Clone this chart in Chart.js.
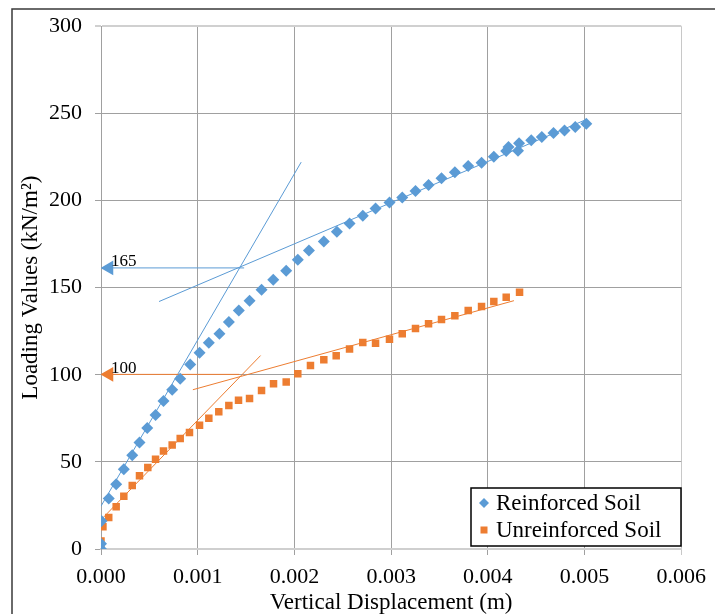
<!DOCTYPE html>
<html>
<head>
<meta charset="utf-8">
<script src="https://cdn.jsdelivr.net/npm/chart.js@4.4.1/dist/chart.umd.min.js"></script>
<style>
  body { margin: 0; background: #fff; }
  #wrap { width: 715px; height: 614px; position: relative; }
</style>
</head>
<body>
<div id="wrap"><canvas id="myChart" width="715" height="614"></canvas></div>
<script>
// measured points (x = displacement in m, y = load in kN/m2)
var reinfX = [0, 0, 0.000005, 0.00008, 0.000157, 0.000236, 0.000323, 0.000398, 0.000478, 0.000564,
  0.000646, 0.000736, 0.000819, 0.000922, 0.001019, 0.001115, 0.001225, 0.001322, 0.001425, 0.001536,
  0.00166, 0.001781, 0.001915, 0.002035, 0.00215, 0.002304, 0.002439, 0.00257, 0.002707, 0.002839,
  0.002983, 0.003115, 0.003252, 0.003387, 0.003521, 0.003659, 0.003797, 0.003935, 0.004062, 0.00419,
  0.004214, 0.004312, 0.004323, 0.004449, 0.004558, 0.004679, 0.004793, 0.004904, 0.005018];
var reinfY = [0, 3, 16.0, 29.0, 37.2, 45.8, 53.8, 61.1, 69.4, 76.9,
  84.9, 91.4, 97.7, 105.9, 112.6, 118.3, 123.5, 130.3, 136.8, 142.5,
  148.7, 154.5, 159.7, 166.0, 171.3, 176.5, 182.0, 186.8, 191.2, 195.4,
  198.8, 201.7, 205.5, 208.9, 212.8, 216.2, 219.8, 221.7, 225.1, 228.4,
  230.7, 228.6, 232.8, 234.5, 236.4, 238.7, 240.2, 242.1, 244.0];

var unreinfX = [0, 0, 0.00002, 0.00008, 0.000157, 0.000236, 0.000323, 0.000398, 0.000484, 0.000564,
  0.000646, 0.000736, 0.000819, 0.000915, 0.001019, 0.001115, 0.001218, 0.001322, 0.001422, 0.001536,
  0.00166, 0.001784, 0.001915, 0.002035, 0.002166, 0.002304, 0.002432, 0.00257, 0.002707, 0.002839,
  0.002983, 0.003115, 0.003252, 0.003387, 0.003521, 0.003659, 0.003797, 0.003935, 0.004062, 0.00419,
  0.004328];
var unreinfY = [0, 4.6, 12.8, 18.1, 24.2, 30.3, 36.5, 42.0, 46.8, 51.5,
  56.3, 59.7, 63.4, 66.8, 71.0, 75.0, 78.8, 82.3, 85.3, 86.4,
  91.0, 94.8, 95.8, 100.6, 105.3, 108.6, 110.9, 114.7, 118.5, 118.1,
  120.4, 123.5, 126.5, 129.2, 131.7, 133.9, 136.8, 139.1, 142.0, 144.4,
  147.3];

// tangent lines [x0, y0, x1, y1]
var reinfSteep = [0, 24.6, 0.00207, 222];
var reinfFlat = [0.0006, 142, 0.00502, 246.5];
var unreinfSteep = [0.000015, 17.6, 0.00165, 111];
var unreinfFlat = [0.00095, 91.4, 0.00427, 142.5];

// arrows marking failure load: [label, y, x end]
var reinfArrow = ['165', 161.3, 0.00148];
var unreinfArrow = ['100', 100.2, 0.00143];

var xTicks = [0, 0.001, 0.002, 0.003, 0.004, 0.005, 0.006];
var yTicks = [0, 50, 100, 150, 200, 250, 300];

var seriesNames = ['Reinforced Soil', 'Unreinforced Soil'];

var BLUE = '#5B9BD5';
var ORANGE = '#ED7D31';
var SERIF = "'Liberation Serif', 'Times New Roman', serif";

function toPts(xs, ys) {
  return xs.map(function (x, i) { return { x: x, y: ys[i] }; });
}
function seg(s) {
  return [{ x: s[0], y: s[1] }, { x: s[2], y: s[3] }];
}
function arrowData(a) {
  // head sits just right of the axis, tail at the tangent intersection
  return [{ x: 0.000083, y: a[1] }, { x: a[2], y: a[1] }];
}
function lineSet(data, color, order) {
  return { type: 'line', data: data, borderColor: color, borderWidth: 1, pointRadius: 0,
    fill: false, order: order };
}
function arrowSet(a, color) {
  return { type: 'line', data: arrowData(a), borderColor: color, borderWidth: 1,
    pointStyle: 'triangle', pointRotation: -90, pointRadius: [8.5, 0],
    pointBackgroundColor: color, pointBorderColor: color, pointBorderWidth: 0, fill: false, order: 3 };
}

var framePlugin = {
  id: 'frame',
  beforeDraw: function (chart) {
    var c = chart.ctx;
    c.save();
    c.fillStyle = '#fff';
    c.fillRect(0, 0, chart.width, chart.height);
    c.strokeStyle = '#3a3a3a';
    c.lineWidth = 1.5;
    c.beginPath();
    c.moveTo(12, chart.height);
    c.lineTo(12, 9);
    c.lineTo(chart.width, 9);
    c.stroke();
    c.restore();
  },
  afterDatasetsDraw: function (chart) {
    var c = chart.ctx, xs = chart.scales.x, ys = chart.scales.y;
    c.save();
    c.font = '17px ' + SERIF;
    c.fillStyle = '#000';
    c.textBaseline = 'alphabetic';
    [reinfArrow, unreinfArrow].forEach(function (a) {
      c.fillText(a[0], xs.getPixelForValue(0) + 10, ys.getPixelForValue(a[1]) - 1.5);
    });

    // legend box
    var bx = 471, by = 488, bw = 210, bh = 58;
    c.fillStyle = '#fff';
    c.fillRect(bx, by, bw, bh);
    c.strokeStyle = '#000';
    c.lineWidth = 1.5;
    c.strokeRect(bx, by, bw, bh);
    c.font = '23px ' + SERIF;
    c.textBaseline = 'middle';
    var rows = [by + 15, by + 42];
    // diamond
    c.fillStyle = BLUE;
    c.beginPath();
    c.moveTo(bx + 13, rows[0] - 5);
    c.lineTo(bx + 18, rows[0]);
    c.lineTo(bx + 13, rows[0] + 5);
    c.lineTo(bx + 8, rows[0]);
    c.closePath();
    c.fill();
    // square
    c.fillStyle = ORANGE;
    c.fillRect(bx + 9.5, rows[1] - 3.5, 7, 7);
    c.fillStyle = '#000';
    c.fillText(seriesNames[0], bx + 25, rows[0] + 1);
    c.fillText(seriesNames[1], bx + 25, rows[1] + 1);
    c.restore();
  }
};

var ctx = document.getElementById('myChart').getContext('2d');
var chart = new Chart(ctx, {
  type: 'scatter',
  data: {
    datasets: [
      { label: seriesNames[0], data: toPts(reinfX, reinfY), pointStyle: 'rectRot', pointRadius: 6,
        backgroundColor: BLUE, borderColor: BLUE, pointBorderWidth: 0, order: 1 },
      { label: seriesNames[1], data: toPts(unreinfX, unreinfY), pointStyle: 'rect', pointRadius: 5.3,
        backgroundColor: ORANGE, borderColor: ORANGE, pointBorderWidth: 0, order: 2 },
      lineSet(seg(reinfSteep), BLUE, 4),
      lineSet(seg(reinfFlat), BLUE, 4),
      lineSet(seg(unreinfSteep), ORANGE, 4),
      lineSet(seg(unreinfFlat), ORANGE, 4),
      arrowSet(reinfArrow, BLUE),
      arrowSet(unreinfArrow, ORANGE)
    ]
  },
  options: {
    responsive: false,
    animation: false,
    layout: { padding: { top: 25, right: 33, left: 0, bottom: 0 } },
    plugins: { legend: { display: false }, tooltip: { enabled: false } },
    scales: {
      x: {
        type: 'linear', min: 0, max: 0.006,
        afterBuildTicks: function (s) { s.ticks = xTicks.map(function (v) { return { value: v }; }); },
        afterFit: function (s) { s.height = 65; },
        ticks: { color: '#000', font: { family: SERIF, size: 22 }, padding: 9,
          callback: function (v) { return v.toFixed(3); } },
        grid: { color: function (c) { return c.tick && c.tick.value === 0.006 ? '#c8c8c8' : '#a0a0a0'; },
          tickLength: 6 },
        border: { color: '#cfcfcf', width: 2 },
        title: { display: true, text: 'Vertical Displacement (m)', color: '#000',
          font: { family: SERIF, size: 23, lineHeight: 1 }, padding: { top: 0, bottom: 0 } }
      },
      y: {
        type: 'linear', min: 0, max: 300,
        afterBuildTicks: function (s) { s.ticks = yTicks.map(function (v) { return { value: v }; }); },
        afterFit: function (s) { s.width = 101; },
        ticks: { color: '#000', font: { family: SERIF, size: 22 }, padding: 13 },
        grid: { color: function (c) { return c.tick && c.tick.value === 300 ? '#d0d0d0' : '#a0a0a0'; },
          lineWidth: function (c) { return c.tick && c.tick.value === 300 ? 2 : 1; },
          tickLength: 6 },
        border: { color: '#a0a0a0', width: 1 },
        title: { display: true, text: 'Loading Values (kN/m²)', color: '#000',
          font: { family: SERIF, size: 23 }, padding: { top: 17, bottom: 0 } }
      }
    }
  },
  plugins: [framePlugin]
});
</script>
</body>
</html>
